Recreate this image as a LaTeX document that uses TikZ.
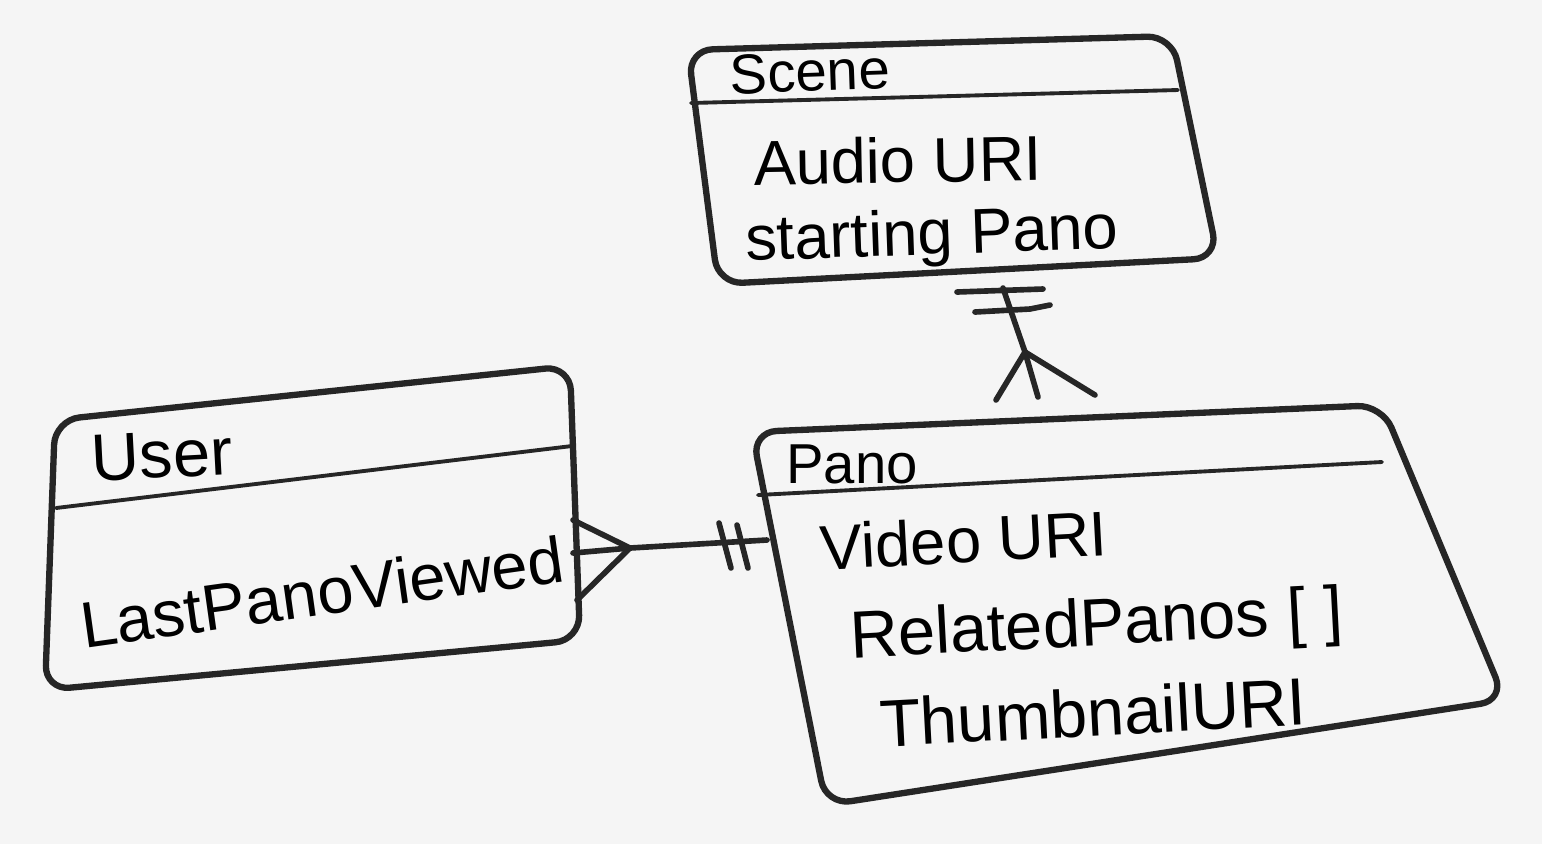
\documentclass[tikz,border=0pt]{standalone}
\usepackage{fontspec}
\setmainfont{Liberation Sans}
\usetikzlibrary{calc}
\tikzset{
	box/.style    ={draw=black!85, line width=1.8pt, rounded corners=7pt, line join=round},
	hdrline/.style={draw=black!85, line width=1.1pt, line cap=round},
	conn/.style   ={draw=black!85, line width=1.6pt, line cap=round},
	ttl/.style    ={inner sep=0pt, font=\fontsize{16}{19}\selectfont},
	fld/.style    ={inner sep=0pt, font=\fontsize{18}{21}\selectfont},
}
\begin{document}
\begin{tikzpicture}[x=0.01cm, y=-0.01cm]
	\fill[black!4] (0,0) rectangle (1542,844);
	\useasboundingbox (0,0) rectangle (1542,844);
	% Scene table
	\coordinate (s1) at (688,50);  \coordinate (s2) at (1172,36);
	\coordinate (s3) at (1218,258); \coordinate (s4) at (718,284);
	\draw[box] (s1) -- (s2) -- (s3) -- (s4) -- cycle;
	\draw[hdrline] (691,103) -- (1178,90);
	\node[ttl, rotate=2] (scn) at (810,72) {Scene};
	\node[fld, rotate=1] (aud) at (898,160) {Audio URI};
	\node[fld, rotate=2] (stp) at (932,238) {starting Pano};
	% User table
	\coordinate (u1) at (55,420);  \coordinate (u2) at (570,366);
	\coordinate (u3) at (580,640); \coordinate (u4) at (45,690);
	\draw[box] (u1) -- (u2) -- (u3) -- (u4) -- cycle;
	\draw[hdrline] (56,508) -- (572,446);
	\node[ttl, rotate=3, font=\fontsize{19}{22}\selectfont] (usr) at (162,455) {User};
	\node[fld, rotate=8, font=\fontsize{18.5}{22}\selectfont] (lpv) at (322,592) {LastPanoViewed};
	% Pano table
	\coordinate (p1) at (752,432);  \coordinate (p2) at (1382,405);
	\coordinate (p3) at (1505,700); \coordinate (p4) at (826,805);
	\draw[box] (p1) -- (p2) -- (p3) -- (p4) -- cycle;
	\draw[hdrline] (758,495) -- (1382,462);
	\node[ttl] (pno) at (852,464) {Pano};
	\node[fld, rotate=3] (vid) at (964,540) {Video URI};
	\node[fld, rotate=3, font=\fontsize{19}{22}\selectfont] (rel) at (1097,628) {RelatedPanos [ ]};
	\node[fld, rotate=3, font=\fontsize{19}{22}\selectfont] (thm) at (1093,712) {ThumbnailURI};
	% Scene -- Pano
	\coordinate (sb) at (1003,288);
	\coordinate (pf) at (1025,352);
	\draw[conn] (sb) -- (pf);
	\foreach \x/\y in {996/400, 1038/397, 1095/395} \draw[conn] (pf) -- (\x,\y);
	\draw[conn] (957,292) -- (1043,289);
	\draw[conn] (975,312) -- (1030,309) -- (1050,305);
	% User -- Pano
	\coordinate (uf) at (630,548);
	\coordinate (pl) at (767,540);
	\draw[conn] (uf) -- (pl);
	\foreach \x/\y in {573/520, 573/553, 577/600} \draw[conn] (uf) -- (\x,\y);
	\draw[conn] (719,523) -- (731,568);
	\draw[conn] (737,525) -- (748,568);
\end{tikzpicture}
\end{document}
